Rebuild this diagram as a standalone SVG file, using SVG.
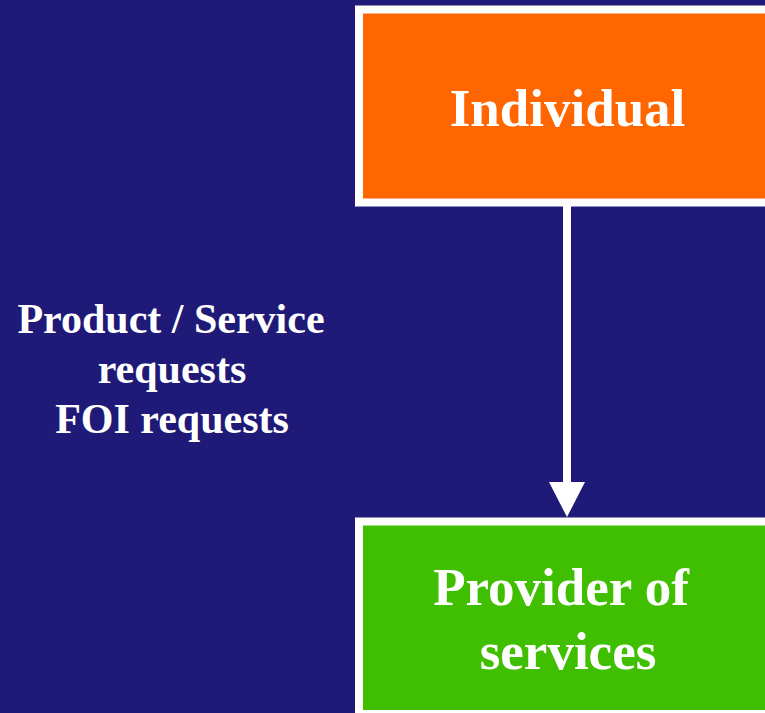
<svg xmlns="http://www.w3.org/2000/svg" width="765" height="713" viewBox="0 0 765 713">
<style>
.box{stroke:#FFFFFF;stroke-width:8}
.t{font-family:"Liberation Serif","Times New Roman",serif;font-weight:bold;fill:#FFFFFF;text-anchor:middle}
</style>
<defs>
<marker id="ah" markerUnits="userSpaceOnUse" markerWidth="37" markerHeight="36" refX="0" refY="18.5" orient="auto" viewBox="0 0 36 37">
<path d="M0,0 L36,18.5 L0,37 Z" fill="#FFFFFF"/>
</marker>
</defs>
<rect width="765" height="713" fill="#1F1A78"/>
<g id="connectors">
<line x1="567" y1="206" x2="567" y2="482" stroke="#FFFFFF" stroke-width="8" marker-end="url(#ah)"/>
</g>
<g id="individual">
<rect class="box" x="359" y="9.5" width="420" height="193" fill="#FF6600"/>
<text class="t" x="567.5" y="126" font-size="53">Individual</text>
</g>
<g id="provider">
<rect class="box" x="359" y="521.5" width="420" height="192.5" fill="#40BF00"/>
<text class="t" x="561" y="605" font-size="53">Provider of</text>
<text class="t" x="568" y="669" font-size="53">services</text>
</g>
<g id="label">
<text class="t" x="171" y="333" font-size="42">Product / Service</text>
<text class="t" x="172" y="383" font-size="42">requests</text>
<text class="t" x="172" y="433" font-size="42">FOI requests</text>
</g>
</svg>
